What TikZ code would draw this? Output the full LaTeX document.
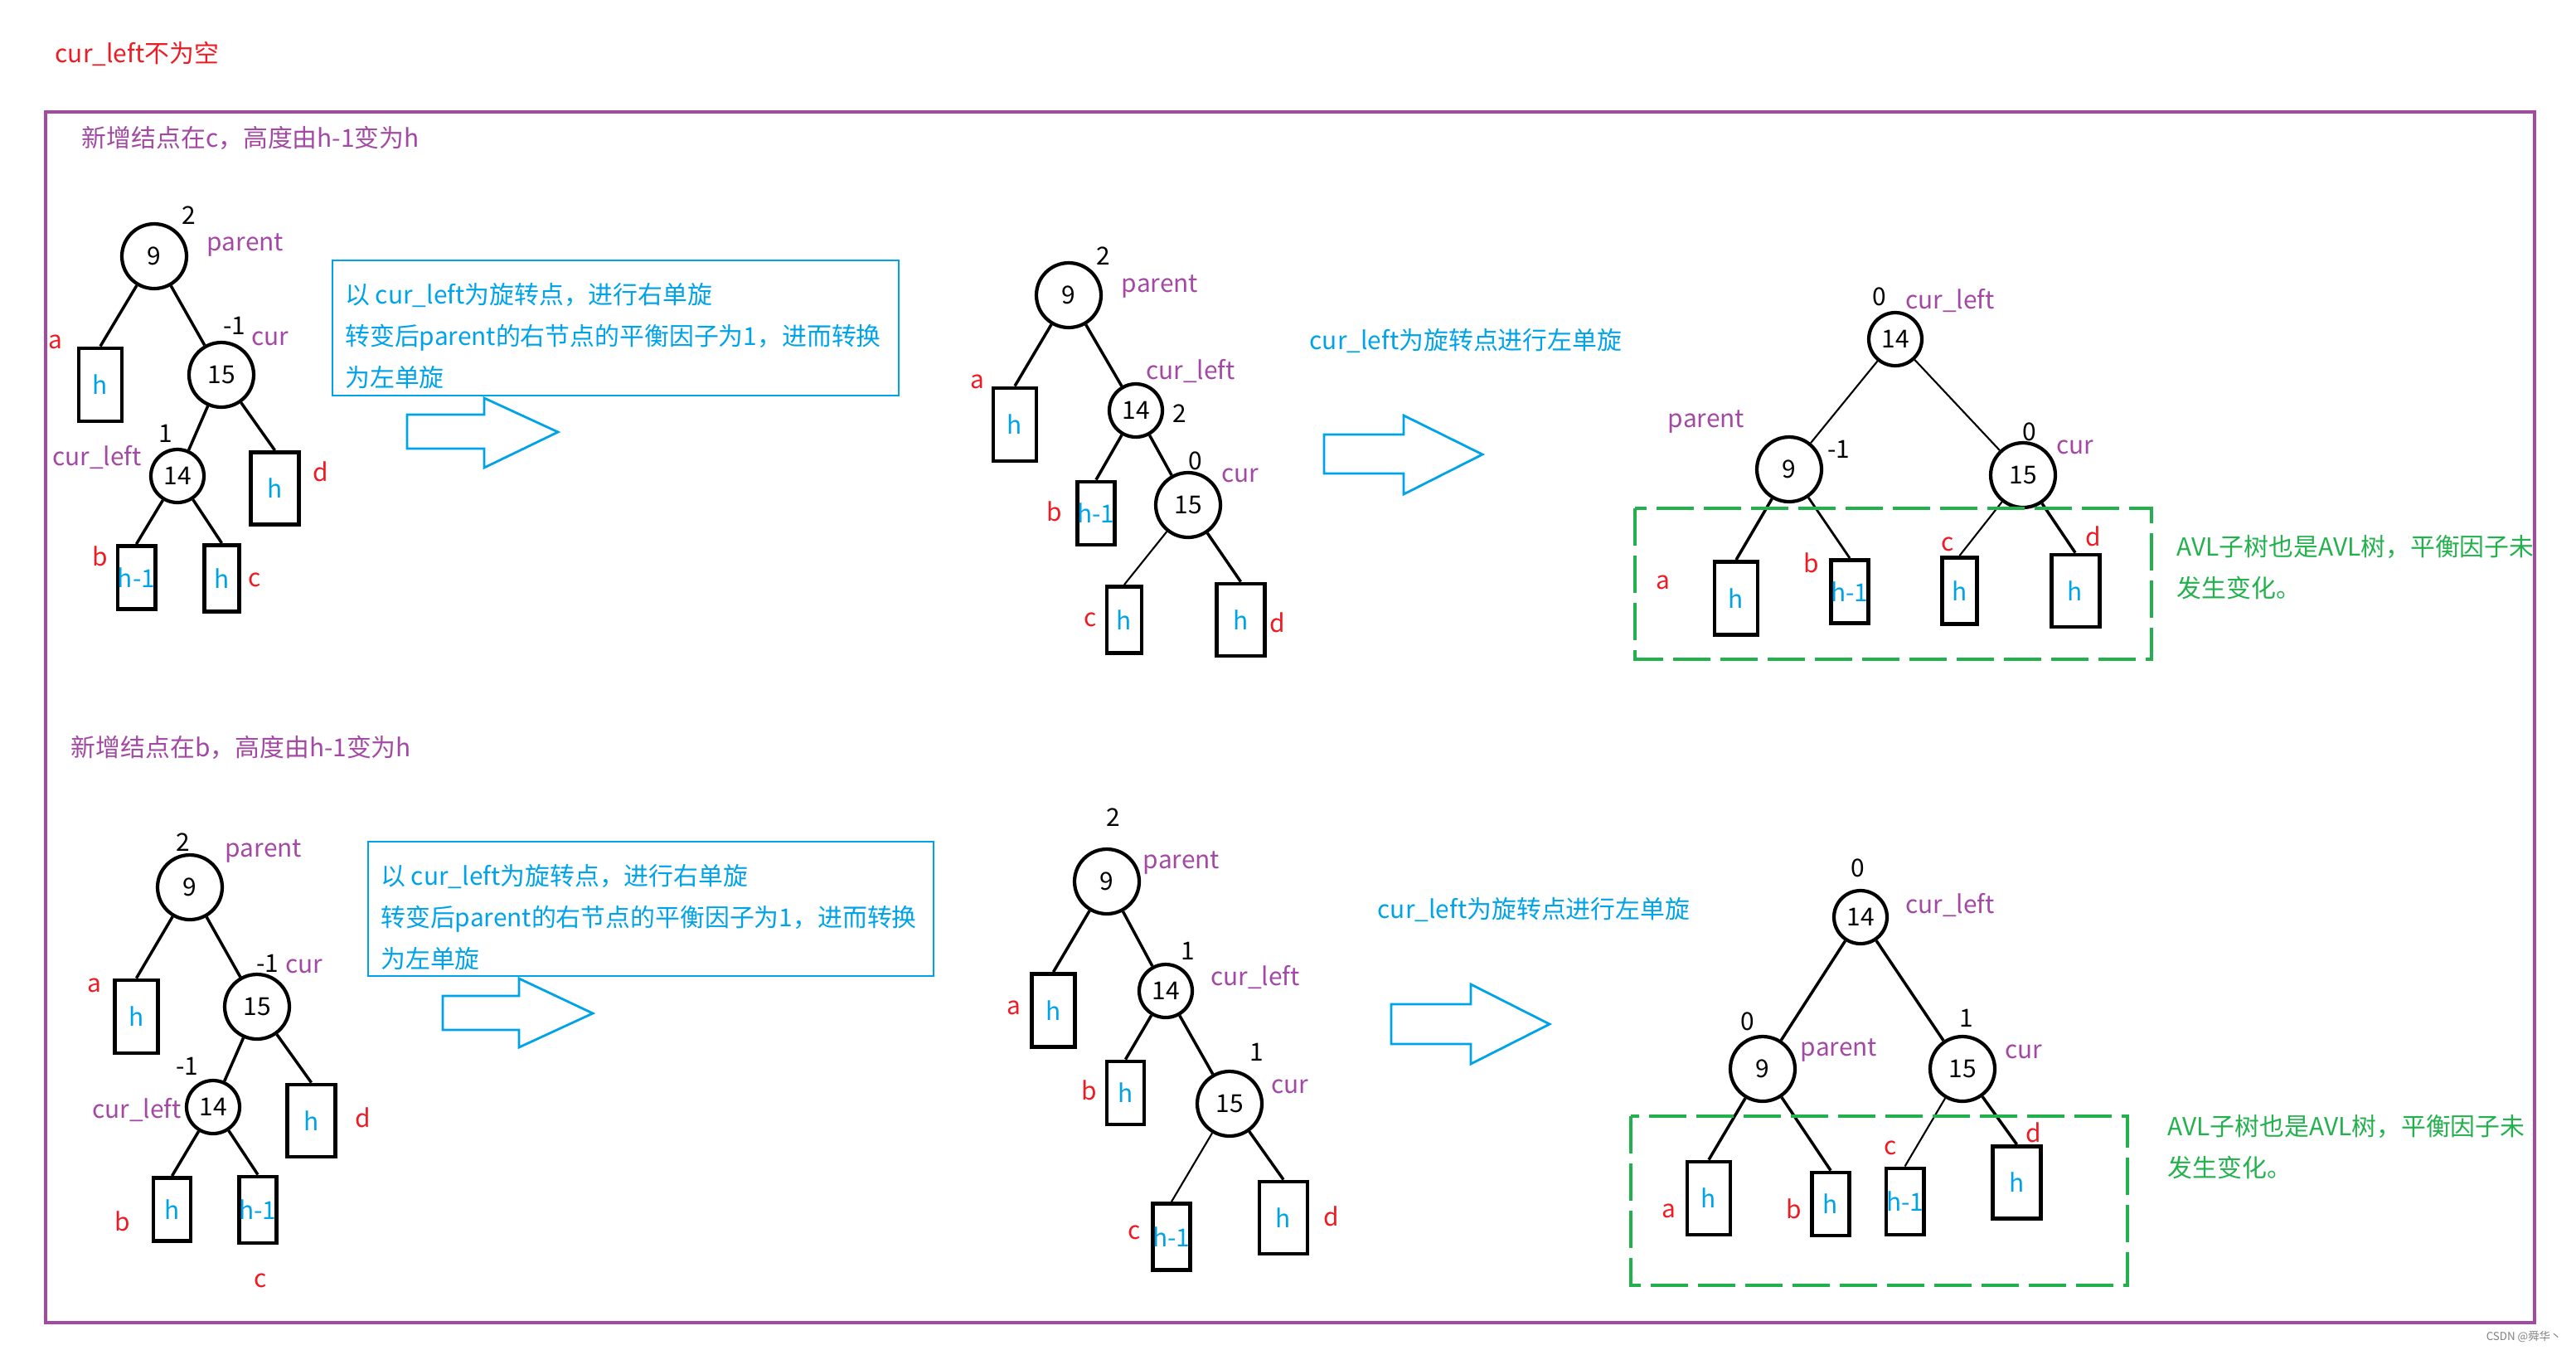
\documentclass[tikz,border=0pt]{standalone}
\usepackage{fontspec}
\setmainfont{Noto Sans CJK SC}
\definecolor{pred}{RGB}{237,28,36}
\definecolor{ppurple}{RGB}{163,73,164}
\definecolor{pblue}{RGB}{0,162,232}
\definecolor{pgreen}{RGB}{34,177,76}
\newcommand{\lbl}{\fontsize{8.5}{14.2}\selectfont}

\tikzset{
  key/.style={circle, minimum width=0.78cm, inner sep=0pt, line width=1.2pt, draw, font=\lbl},
  smallkey/.style={minimum width=0.64cm},
  sub/.style={rectangle, inner sep=0pt, line width=1.4pt, draw, text=pblue, font=\lbl},
  tallbox/.style={minimum width=0.52cm, minimum height=0.88cm},
  widebox/.style={minimum width=0.58cm, minimum height=0.87cm},
  shortbox/.style={minimum width=0.45cm, minimum height=0.76cm},
  thinbox/.style={minimum width=0.42cm, minimum height=0.80cm},
  edge/.style={line width=1pt},
  bf/.style={font=\lbl},
  role/.style={text=ppurple, font=\lbl},
  leaf/.style={text=pred, font=\lbl},
  note/.style={draw=pblue, line width=0.8pt},
  notetext/.style={text=pblue, font=\lbl, align=left, anchor=west, inner sep=0pt},
  bigarrow/.style={draw=pblue, line width=0.8pt},
  avlbox/.style={draw=pgreen, line width=1pt, dash pattern=on 0.45cm off 0.12cm},
  remark/.style={text=pgreen, font=\lbl, align=left, anchor=west, inner sep=0pt}
}

\begin{document}
\begin{tikzpicture}
\useasboundingbox (0,0) rectangle (31.07,-16.27);

\node[anchor=west, inner sep=0pt, leaf] (title) at (0.66,-0.65) {cur\_left不为空};
\node[anchor=west, inner sep=0pt, role] (head1) at (0.98,-1.66) {新增结点在c，高度由h-1变为h};
\node[anchor=west, inner sep=0pt, role] (head2) at (0.85,-9.01) {新增结点在b，高度由h-1变为h};

\node[key] (p1) at (1.86,-3.09) {9};
\node[key] (c1) at (2.67,-4.52) {15};
\node[key, smallkey] (l1) at (2.14,-5.74) {14};
\node[sub, tallbox] (a1) at (1.21,-4.64) {h};
\node[sub, widebox] (d1) at (3.315,-5.89) {h};
\node[sub, shortbox] (b1) at (1.645,-6.965) {h-1};
\node[sub, thinbox] (cc1) at (2.675,-6.975) {h};
\node[bf] (f1p) at (2.28,-2.60) {2};
\node[role] (n1p) at (2.96,-2.96) {parent};
\node[bf] (f1c) at (2.83,-3.93) {-1};
\node[role] (n1c) at (3.26,-4.08) {cur};
\node[bf] (f1l) at (2.00,-5.23) {1};
\node[role] (n1l) at (1.17,-5.51) {cur\_left};
\node[leaf] (t1a) at (0.67,-4.12) {a};
\node[leaf] (t1b) at (1.21,-6.71) {b};
\node[leaf] (t1c) at (3.07,-6.99) {c};
\node[leaf] (t1d) at (3.87,-5.69) {d};

\draw[edge] (p1) -- (a1.north);
\draw[edge] (p1) -- (c1);
\draw[edge] (c1) -- (l1);
\draw[edge] (c1) -- (d1.north);
\draw[edge] (l1) -- (b1.north);
\draw[edge] (l1) -- (cc1.north);

\node[note, minimum width=6.83cm, minimum height=1.63cm] (note1) at (7.425,-3.955) {};
\node[notetext] (text1) at ([xshift=0.16cm, yshift=-0.1cm]note1.west)
{以 cur\_left为旋转点，进行右单旋\\转变后parent的右节点的平衡因子为1，进而转换\\为左单旋};
\draw[bigarrow] (4.91,-5.00) -- (5.84,-5.00) -- (5.84,-4.80) -- (6.73,-5.21) -- (5.84,-5.64) -- (5.84,-5.41) -- (4.91,-5.41) -- cycle;

\node[key] (p2) at (12.89,-3.56) {9};
\node[key, smallkey] (l2) at (13.70,-4.95) {14};
\node[key] (c2) at (14.33,-6.09) {15};
\node[sub, tallbox] (a2) at (12.24,-5.12) {h};
\node[sub, shortbox] (b2) at (13.22,-6.19) {h-1};
\node[sub, thinbox] (cc2) at (13.56,-7.475) {h};
\node[sub, widebox] (d2) at (14.965,-7.475) {h};
\node[bf] (f2p) at (13.31,-3.09) {2};
\node[role] (n2p) at (13.99,-3.46) {parent};
\node[role] (n2l) at (14.36,-4.47) {cur\_left};
\node[bf] (f2l) at (14.23,-4.99) {2};
\node[bf] (f2c) at (14.42,-5.56) {0};
\node[role] (n2c) at (14.96,-5.73) {cur};
\node[leaf] (t2a) at (11.79,-4.60) {a};
\node[leaf] (t2b) at (12.72,-6.17) {b};
\node[leaf] (t2c) at (13.15,-7.47) {c};
\node[leaf] (t2d) at (15.41,-7.51) {d};

\draw[edge] (p2) -- (a2.north);
\draw[edge] (p2) -- (l2);
\draw[edge] (l2) -- (b2.north);
\draw[edge] (l2) -- (c2);
\draw[edge, line width=0.6pt] (c2) -- (cc2.north);
\draw[edge] (c2) -- (d2.north);

\node[anchor=west, inner sep=0pt, text=pblue, font=\lbl] (step1) at (15.79,-4.11) {cur\_left为旋转点进行左单旋};
\draw[bigarrow] (15.97,-5.24) -- (16.93,-5.24) -- (16.93,-5.01) -- (17.88,-5.48) -- (16.93,-5.96) -- (16.93,-5.71) -- (15.97,-5.71) -- cycle;

\node[key, smallkey] (r3) at (22.86,-4.09) {14};
\node[key] (p3) at (21.58,-5.66) {9};
\node[key] (c3) at (24.40,-5.73) {15};
\node[sub, tallbox] (a3) at (20.94,-7.215) {h};
\node[sub, shortbox] (b3) at (22.31,-7.135) {h-1};
\node[sub, thinbox] (cc3) at (23.635,-7.125) {h};
\node[sub, widebox] (d3) at (25.03,-7.125) {h};
\node[bf] (f3r) at (22.67,-3.58) {0};
\node[role] (n3r) at (23.52,-3.62) {cur\_left};
\node[role] (n3p) at (20.58,-5.09) {parent};
\node[bf] (f3p) at (22.18,-5.42) {-1};
\node[bf] (f3c) at (24.48,-5.21) {0};
\node[role] (n3c) at (25.03,-5.39) {cur};
\node[leaf] (t3a) at (20.06,-7.02) {a};
\node[leaf] (t3b) at (21.85,-6.79) {b};
\node[leaf] (t3c) at (23.49,-6.56) {c};
\node[leaf] (t3d) at (25.25,-6.47) {d};

\draw[edge, line width=0.6pt] (r3) -- (p3);
\draw[edge, line width=0.6pt] (r3) -- (c3);
\draw[edge] (p3) -- (a3.north);
\draw[edge, line width=0.8pt] (p3) -- (b3.north);
\draw[edge, line width=0.6pt] (c3) -- (cc3.north);
\draw[edge] (c3) -- (d3.north);
\draw[avlbox] (19.72,-6.13) rectangle (25.95,-7.95);

\node[key] (p4) at (2.29,-10.70) {9};
\node[key] (c4) at (3.10,-12.14) {15};
\node[key, smallkey] (l4) at (2.57,-13.35) {14};
\node[sub, tallbox] (a4) at (1.645,-12.26) {h};
\node[sub, widebox] (d4) at (3.755,-13.515) {h};
\node[sub, shortbox] (b4) at (2.075,-14.585) {h};
\node[sub, thinbox] (cc4) at (3.11,-14.59) {h-1};
\node[bf] (f4p) at (2.21,-10.16) {2};
\node[role] (n4p) at (3.18,-10.26) {parent};
\node[bf] (f4c) at (3.23,-11.62) {-1};
\node[role] (n4c) at (3.67,-11.65) {cur};
\node[bf] (f4l) at (2.26,-12.86) {-1};
\node[role] (n4l) at (1.65,-13.38) {cur\_left};
\node[leaf] (t4a) at (1.14,-11.88) {a};
\node[leaf] (t4b) at (1.48,-14.73) {b};
\node[leaf] (t4c) at (3.14,-15.44) {c};
\node[leaf] (t4d) at (4.38,-13.48) {d};

\draw[edge] (p4) -- (a4.north);
\draw[edge] (p4) -- (c4);
\draw[edge] (c4) -- (l4);
\draw[edge] (c4) -- (d4.north);
\draw[edge] (l4) -- (b4.north);
\draw[edge] (l4) -- (cc4.north);

\node[note, minimum width=6.82cm, minimum height=1.62cm] (note2) at (7.85,-10.96) {};
\node[notetext] (text2) at ([xshift=0.16cm, yshift=-0.1cm]note2.west)
{以 cur\_left为旋转点，进行右单旋\\转变后parent的右节点的平衡因子为1，进而转换\\为左单旋};
\draw[bigarrow] (5.34,-12.01) -- (6.26,-12.01) -- (6.26,-11.80) -- (7.15,-12.22) -- (6.26,-12.63) -- (6.26,-12.42) -- (5.34,-12.42) -- cycle;

\node[key] (p5) at (13.35,-10.63) {9};
\node[key, smallkey] (l5) at (14.06,-11.95) {14};
\node[key] (c5) at (14.83,-13.31) {15};
\node[sub, tallbox] (a5) at (12.705,-12.185) {h};
\node[sub, shortbox] (b5) at (13.575,-13.18) {h};
\node[sub, thinbox] (cc5) at (14.13,-14.915) {h-1};
\node[sub, widebox] (d5) at (15.48,-14.685) {h};
\node[bf] (f5p) at (13.43,-9.86) {2};
\node[role] (n5p) at (14.25,-10.40) {parent};
\node[bf] (f5l) at (14.33,-11.47) {1};
\node[role] (n5l) at (15.14,-11.78) {cur\_left};
\node[bf] (f5c) at (15.16,-12.69) {1};
\node[role] (n5c) at (15.56,-13.10) {cur};
\node[leaf] (t5a) at (12.23,-12.15) {a};
\node[leaf] (t5b) at (13.14,-13.15) {b};
\node[leaf] (t5c) at (13.68,-14.86) {c};
\node[leaf] (t5d) at (16.06,-14.67) {d};

\draw[edge] (p5) -- (a5.north);
\draw[edge] (p5) -- (l5);
\draw[edge] (l5) -- (b5.north);
\draw[edge] (l5) -- (c5);
\draw[edge, line width=0.6pt] (c5) -- (cc5.north);
\draw[edge] (c5) -- (d5.north);

\node[anchor=west, inner sep=0pt, text=pblue, font=\lbl] (step2) at (16.61,-10.97) {cur\_left为旋转点进行左单旋};
\draw[bigarrow] (16.78,-12.11) -- (17.74,-12.11) -- (17.74,-11.87) -- (18.69,-12.35) -- (17.74,-12.83) -- (17.74,-12.59) -- (16.78,-12.59) -- cycle;

\node[key, smallkey] (r6) at (22.44,-11.06) {14};
\node[key] (p6) at (21.26,-12.89) {9};
\node[key] (c6) at (23.67,-12.89) {15};
\node[sub, tallbox] (a6) at (20.61,-14.45) {h};
\node[sub, shortbox] (b6) at (22.08,-14.52) {h};
\node[sub, thinbox] (cc6) at (22.975,-14.49) {h-1};
\node[sub, widebox] (d6) at (24.325,-14.26) {h};
\node[bf] (f6r) at (22.41,-10.47) {0};
\node[role] (n6r) at (23.52,-10.91) {cur\_left};
\node[bf] (f6p) at (21.08,-12.32) {0};
\node[role] (n6p) at (22.18,-12.66) {parent};
\node[bf] (f6c) at (23.72,-12.28) {1};
\node[role] (n6c) at (24.41,-12.68) {cur};
\node[leaf] (t6a) at (20.13,-14.60) {a};
\node[leaf] (t6b) at (21.64,-14.58) {b};
\node[leaf] (t6c) at (22.80,-13.84) {c};
\node[leaf] (t6d) at (24.53,-13.66) {d};

\draw[edge] (r6) -- (p6);
\draw[edge] (r6) -- (c6);
\draw[edge] (p6) -- (a6.north);
\draw[edge] (p6) -- (b6.north);
\draw[edge, line width=0.6pt] (c6) -- (cc6.north);
\draw[edge] (c6) -- (d6.north);
\draw[avlbox] (19.67,-13.46) rectangle (25.66,-15.50);

\begin{scope}
\clip (0.55,-1.35) rectangle (30.57,-15.95);
\node[remark] (same1) at (26.25,-6.84) {AVL子树也是AVL树，平衡因子未\\发生变化。};
\node[remark] (same2) at (26.14,-13.83) {AVL子树也是AVL树，平衡因子未\\发生变化。};
\end{scope}

\draw[draw=ppurple, line width=1.15pt] (0.55,-1.35) rectangle (30.57,-15.95);
\node[anchor=west, inner sep=0pt, text=gray, font=\fontsize{3.8}{4}\selectfont] (mark) at (29.98,-16.12) {CSDN @舜华丶};
\end{tikzpicture}
\end{document}
